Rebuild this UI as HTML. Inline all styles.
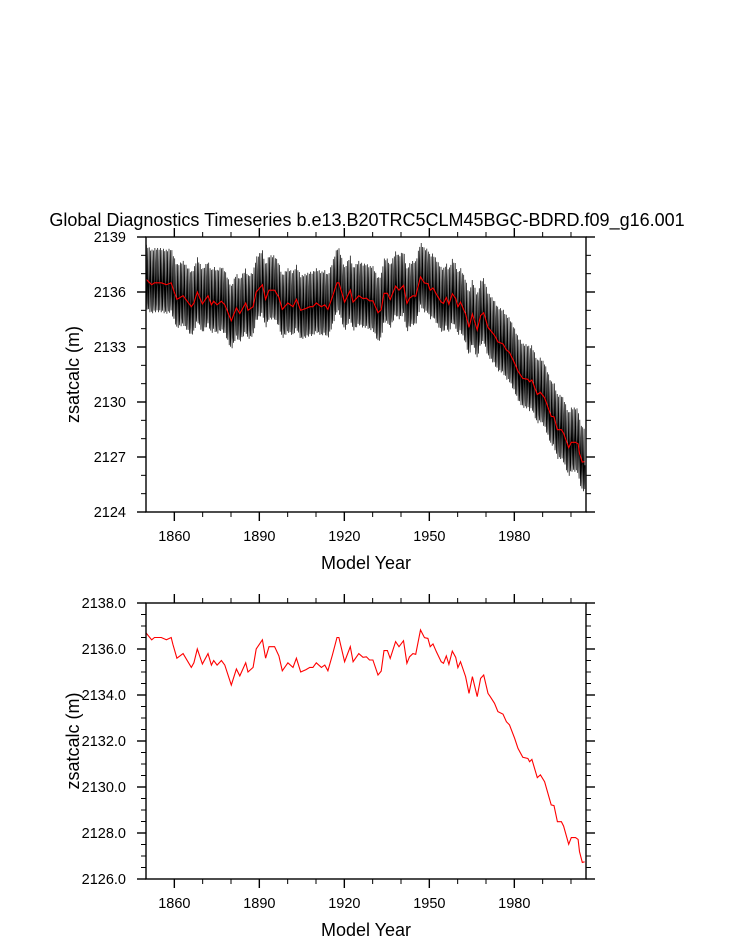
<!DOCTYPE html>
<html><head><meta charset="utf-8">
<style>
html,body{margin:0;padding:0;background:#fff;}
svg{display:block;font-family:"Liberation Sans",sans-serif;}
</style></head>
<body>
<svg id="chart" width="733" height="945" xmlns="http://www.w3.org/2000/svg">
<text x="367" y="226" text-anchor="middle" font-size="18">Global Diagnostics Timeseries b.e13.B20TRC5CLM45BGC-BDRD.f09_g16.001</text>
<g id="top"></g>
<g id="bot"></g>
</svg>
<script>
// annual mean zsatcalc (vertices)
const years = [1850,1852,1853,1854,1855.4,1857.2,1858.9,1859.5,1860.9,1863.1,1866,1866.9,1868.1,1869.9,1871.9,1873.1,1873.9,1875.1,1876.6,1877.8,1880.1,1881.9,1883.1,1885.2,1886,1887.8,1888.9,1891.1,1892.2,1893.4,1895.4,1896.9,1898.1,1900.1,1901.9,1903.1,1904.6,1906.4,1907.8,1908.9,1910.1,1911.9,1913.1,1914.2,1915.8,1917.4,1918.1,1920.1,1922.1,1923.1,1925.1,1926.6,1927.8,1928.9,1930.1,1931.9,1933,1934,1935.2,1936.2,1938.1,1939.3,1940.9,1942.1,1943,1944.2,1945.2,1946.9,1948.3,1949.5,1950.3,1951.3,1952.5,1954.2,1955,1956,1956.9,1958.1,1959.3,1960.1,1961,1962.8,1964,1965.2,1966.9,1968.1,1969.2,1970.7,1971.5,1973,1974.2,1976,1977.2,1978.3,1980.1,1981.3,1983,1984.8,1985.4,1986.2,1988.1,1989.2,1990.7,1993,1994,1995.2,1996.6,1997.4,1999.2,2000.1,2001.6,2002.5,2003,2004,2004.8];
const values = [2136.7,2136.4,2136.5,2136.5,2136.5,2136.4,2136.5,2136.2,2135.6,2135.8,2135.2,2135.4,2136.0,2135.35,2135.8,2135.3,2135.5,2135.3,2135.5,2135.3,2134.43,2135.13,2134.83,2135.4,2135.0,2135.2,2136.0,2136.4,2135.6,2136.1,2136.1,2135.7,2135.05,2135.4,2135.2,2135.6,2135.0,2135.1,2135.2,2135.2,2135.4,2135.2,2135.3,2135.05,2135.74,2136.5,2136.5,2135.45,2136.1,2135.45,2135.8,2135.64,2135.66,2135.52,2135.52,2134.87,2135.04,2135.93,2135.93,2135.59,2136.32,2136.1,2136.36,2135.38,2135.66,2135.8,2135.77,2136.83,2136.49,2136.46,2136.1,2136.22,2135.88,2135.45,2135.38,2135.7,2135.33,2135.91,2135.64,2135.19,2135.45,2134.8,2134.07,2134.8,2133.93,2134.72,2134.87,2134.07,2133.93,2133.64,2133.28,2133.17,2132.84,2132.7,2132.12,2131.68,2131.29,2131.24,2131.1,2131.2,2130.41,2130.53,2130.23,2129.22,2129.19,2128.49,2128.49,2128.3,2127.51,2127.8,2127.8,2127.72,2127.19,2126.72,2126.75];
// mean seasonal cycle anomaly (m), Jan..Dec
const seasonal = [0.2,1.9,0.5,-0.6,-1.6,-0.7,1.1,1.8,0.0,-1.2,-1.5,-0.2];
const xTicks = [1860,1890,1920,1950,1980];
const topYTicks = [2124,2127,2130,2133,2136,2139];
const botYTicks = [2126.0,2128.0,2130.0,2132.0,2134.0,2136.0,2138.0];

const NS="http://www.w3.org/2000/svg";
function mk(tag,parent,attrs){const e=document.createElementNS(NS,tag);for(const k in attrs)e.setAttribute(k,attrs[k]);parent.appendChild(e);return e;}
function interp(y){let i=0;while(i<years.length-2&&years[i+1]<y)i++;const t=(y-years[i])/(years[i+1]-years[i]);return values[i]+(values[i+1]-values[i])*Math.max(0,Math.min(1,t));}

function panel(g,top,bottom,ymin,ymax,ymaj,ymin2,yticks,dec,monthly){
  const L=146,R=586,x0=1850,x1=2005.3;
  const X=v=>L+(v-x0)/(x1-x0)*(R-L);
  const Y=v=>bottom-(v-ymin)/(ymax-ymin)*(bottom-top);
  for(let yr=1860;yr<=2000;yr+=10){
    const maj=xTicks.includes(yr);const len=maj?9:5;
    const t1=mk('line',g,{x1:X(yr),x2:X(yr),y1:bottom,y2:bottom+len,stroke:'#000','stroke-width':maj?1.4:1});
    
    
    const t2=mk('line',g,{x1:X(yr),x2:X(yr),y1:top,y2:top-len,stroke:'#000','stroke-width':maj?1.4:1});
    
    
  }
  for(let v=ymin;v<=ymax+1e-6;v+=ymin2){
    const maj=Math.abs(((v-ymin)/ymaj)-Math.round((v-ymin)/ymaj))<1e-6;const len=maj?9:5;
    const a=mk('line',g,{x1:L-len,x2:L,y1:Y(v),y2:Y(v),stroke:'#000','stroke-width':maj?1.4:1});
    
    
    const b=mk('line',g,{x1:R,x2:R+len,y1:Y(v),y2:Y(v),stroke:'#000','stroke-width':maj?1.4:1});
    
    
  }
  xTicks.forEach(yr=>{const t=mk('text',g,{x:X(yr),y:bottom+29,'text-anchor':'middle','font-size':14.5});t.textContent=yr;
    
    });
  yticks.forEach(v=>{const t=mk('text',g,{x:126,y:Y(v)+5,'text-anchor':'end','font-size':14.5});t.textContent=v.toFixed(dec);
    
    });
  const cp='clip'+top;
  const c=mk('clipPath',g,{id:cp});mk('rect',c,{x:L,y:top,width:R-L,height:bottom-top});
  if(monthly){
    const pts=[];
    for(let yr=1850;yr<2005;yr++){for(let m=0;m<12;m++){const t=yr+(m+0.5)/12;pts.push(X(t).toFixed(1)+','+Y(interp(t)+seasonal[m]).toFixed(1));}}
    const p=mk('polyline',g,{points:pts.join(' '),fill:'none',stroke:'#000','stroke-width':0.7,'clip-path':'url(#'+cp+')'});
    
    
  }
  const ann=years.map((yr,i)=>X(yr).toFixed(1)+','+Y(values[i]).toFixed(1)).join(' ');
  const r=mk('polyline',g,{points:ann,fill:'none',stroke:'#ff0000','stroke-width':1.1,'clip-path':'url(#'+cp+')'});
  
  
  const f=mk('rect',g,{x:L,y:top,width:R-L,height:bottom-top,fill:'none',stroke:'#000','stroke-width':1.4});
  
  
  const xl=mk('text',g,{x:(L+R)/2,y:bottom+57,'text-anchor':'middle','font-size':18});xl.textContent='Model Year';
  
  
  const cy=(top+bottom)/2;
  const yl=mk('text',g,{x:79,y:cy,'text-anchor':'middle','font-size':18,transform:'rotate(-90 79 '+cy+')'});yl.textContent='zsatcalc (m)';
  
  
}
panel(document.getElementById('top'),237,512,2124,2139,3,1,topYTicks,0,true);
panel(document.getElementById('bot'),603,879,2126,2138,2,0.5,botYTicks,1,false);
</script>
</body></html>
